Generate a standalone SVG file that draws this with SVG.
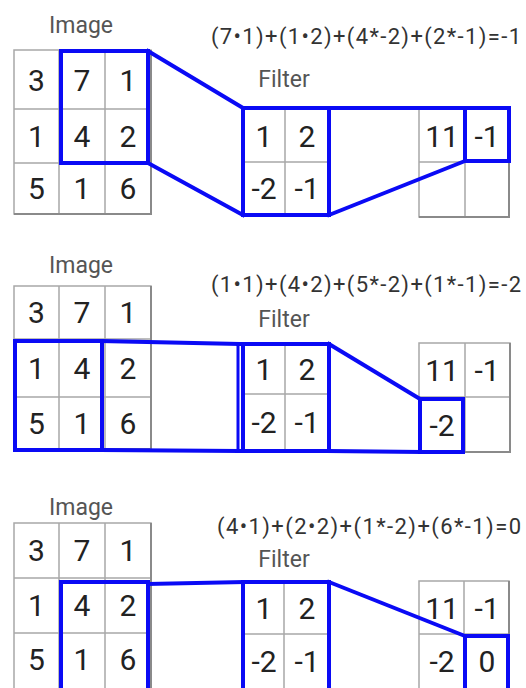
<svg xmlns="http://www.w3.org/2000/svg" width="526" height="688" viewBox="0 0 526 688">
<style>
.bg{fill:#ffffff}
.grid{fill:none;stroke:#a8a8a8;stroke-width:1.5}
.edge{fill:none;stroke:#8a8a8a;stroke-width:2}
.sel{fill:none;stroke:#0a0af5;stroke-width:4;stroke-linejoin:miter}
.con{fill:none;stroke:#0a0af5;stroke-width:4;stroke-linecap:square}
.thin{stroke-width:3}
.num{font-family:Roboto,"Liberation Sans",sans-serif;font-size:30px;fill:#222;text-anchor:middle}
.lbl{font-family:Roboto,"Liberation Sans",sans-serif;font-size:23px;fill:#555;text-anchor:middle}
.eq{font-family:Roboto,"Liberation Sans",sans-serif;font-size:22px;fill:#333;text-anchor:start}
</style>
<rect class="bg" x="0" y="0" width="526" height="688"/>

<!-- ===== Panel 1 ===== -->
<g id="p1-image">
  <text class="lbl" x="81" y="33">Image</text>
  <path class="grid" d="M14 50H151V214H14Z M59 50V214 M105 50V214 M14 109H151 M14 163H151"/>
  <path class="edge" d="M14 214H151V50"/>
  <text class="num" x="36.5" y="91">3</text><text class="num" x="82" y="91">7</text><text class="num" x="128" y="91">1</text>
  <text class="num" x="36.5" y="147">1</text><text class="num" x="82" y="147">4</text><text class="num" x="128" y="147">2</text>
  <text class="num" x="36.5" y="199">5</text><text class="num" x="82" y="199">1</text><text class="num" x="128" y="199">6</text>
  <rect class="sel" x="61" y="51" width="87" height="112"/>
</g>
<g id="p1-equation">
  <text class="eq" x="211" y="43.5" textLength="310" lengthAdjust="spacing">(7•1)+(1•2)+(4*-2)+(2*-1)=-1</text>
</g>
<g id="p1-filter">
  <text class="lbl" x="284" y="87">Filter</text>
  <path class="grid" d="M285 108V215 M243 162H329"/>
  <text class="num" x="264" y="147">1</text><text class="num" x="307" y="147">2</text>
  <text class="num" x="264" y="199">-2</text><text class="num" x="307" y="199">-1</text>
  <rect class="sel" x="243" y="108" width="86" height="107"/>
</g>
<g id="p1-output">
  <path class="grid" d="M419 108H509V217H419Z M465 108V217 M419 162H509"/>
  <path class="edge" d="M419 217H509V108"/>
  <text class="num" x="442" y="147">11</text><text class="num" x="487" y="147">-1</text>
  <rect class="sel" x="465" y="108" width="44" height="53"/>
</g>

<!-- ===== Panel 2 ===== -->
<g id="p2-image">
  <text class="lbl" x="81" y="272.5">Image</text>
  <path class="grid" d="M14 286H151V449H14Z M59 286V449 M105 286V449 M14 339H151 M14 397H151"/>
  <path class="edge" d="M14 449H151V286"/>
  <text class="num" x="36.5" y="323">3</text><text class="num" x="82" y="323">7</text><text class="num" x="128" y="323">1</text>
  <text class="num" x="36.5" y="379">1</text><text class="num" x="82" y="379">4</text><text class="num" x="128" y="379">2</text>
  <text class="num" x="36.5" y="434">5</text><text class="num" x="82" y="434">1</text><text class="num" x="128" y="434">6</text>
  <rect class="sel" x="15" y="341" width="87" height="109"/>
</g>
<g id="p2-equation">
  <text class="eq" x="211" y="291.5" textLength="310" lengthAdjust="spacing">(1•1)+(4•2)+(5*-2)+(1*-1)=-2</text>
</g>
<g id="p2-filter">
  <text class="lbl" x="284" y="326.5">Filter</text>
  <path class="grid" d="M285 344V451 M243 394H329"/>
  <text class="num" x="264" y="380">1</text><text class="num" x="307" y="380">2</text>
  <text class="num" x="264" y="433">-2</text><text class="num" x="307" y="433">-1</text>
  <rect class="sel" x="243" y="344" width="86" height="107"/>
</g>
<g id="p2-output">
  <path class="grid" d="M419 343H510V452H419Z M465 343V452 M419 397H510"/>
  <path class="edge" d="M419 452H510V343"/>
  <text class="num" x="442" y="381">11</text><text class="num" x="487" y="381">-1</text>
  <text class="num" x="442" y="436">-2</text>
  <rect class="sel" x="420" y="399" width="43" height="53"/>
</g>

<!-- ===== Panel 3 ===== -->
<g id="p3-image">
  <text class="lbl" x="81" y="515">Image</text>
  <path class="grid" d="M14 523H151V692H14Z M59 523V692 M105 523V692 M14 578H151 M14 633H151"/>
  <path class="edge" d="M151 692V523"/>
  <text class="num" x="36.5" y="561">3</text><text class="num" x="82" y="561">7</text><text class="num" x="128" y="561">1</text>
  <text class="num" x="36.5" y="616">1</text><text class="num" x="82" y="616">4</text><text class="num" x="128" y="616">2</text>
  <text class="num" x="36.5" y="670">5</text><text class="num" x="82" y="670">1</text><text class="num" x="128" y="670">6</text>
  <rect class="sel" x="61" y="582" width="87" height="112"/>
</g>
<g id="p3-equation">
  <text class="eq" x="217" y="534" textLength="304" lengthAdjust="spacing">(4•1)+(2•2)+(1*-2)+(6*-1)=0</text>
</g>
<g id="p3-filter">
  <text class="lbl" x="284" y="566.5">Filter</text>
  <path class="grid" d="M284 582V692 M243 634H329"/>
  <text class="num" x="264" y="619">1</text><text class="num" x="307" y="619">2</text>
  <text class="num" x="264" y="672">-2</text><text class="num" x="307" y="672">-1</text>
  <rect class="sel" x="243" y="582" width="86" height="112"/>
</g>
<g id="p3-output">
  <path class="grid" d="M419 581H509V692H419Z M464 581V692 M419 634H509"/>
  <path class="edge" d="M509 692V581"/>
  <text class="num" x="442" y="619">11</text><text class="num" x="487" y="619">-1</text>
  <text class="num" x="442" y="672">-2</text><text class="num" x="487" y="672">0</text>
  <rect class="sel" x="465" y="636" width="43" height="58"/>
</g>

<!-- ===== Connectors ===== -->
<g id="connectors">
  <line class="con" x1="148" y1="51" x2="243" y2="108"/>
  <line class="con" x1="148" y1="163" x2="243" y2="215"/>
  <line class="con" x1="329" y1="108" x2="465" y2="108"/>
  <line class="con" x1="329" y1="215" x2="465" y2="161"/>

  <line class="con" x1="102" y1="341" x2="238" y2="344"/>
  <line class="con" x1="102" y1="450" x2="238" y2="451"/>
  <line class="con thin" x1="238" y1="344" x2="238" y2="451"/>
  <line class="con" x1="238" y1="344" x2="243" y2="344"/>
  <line class="con" x1="238" y1="451" x2="243" y2="451"/>
  <line class="con" x1="329" y1="344" x2="420" y2="399"/>
  <line class="con" x1="329" y1="451" x2="420" y2="452"/>

  <line class="con" x1="148" y1="584" x2="243" y2="582"/>
  <line class="con" x1="329" y1="582" x2="465" y2="636"/>
</g>
</svg>
